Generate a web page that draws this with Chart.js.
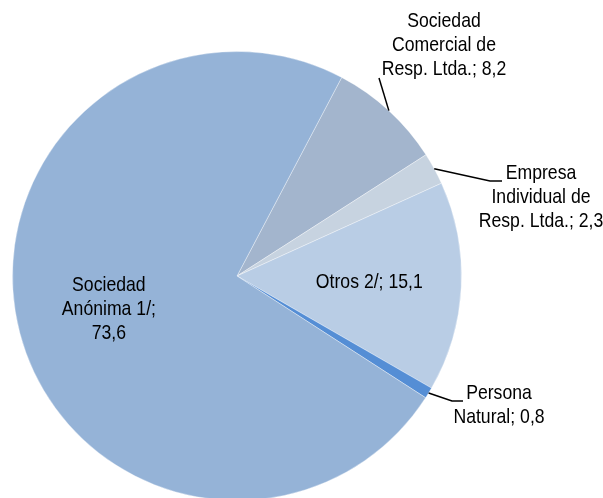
<!DOCTYPE html>
<html lang="es">
<head>
    <meta charset="UTF-8">
    <title>Distribución por tipo de organización</title>
    <script src="https://cdn.jsdelivr.net/npm/chart.js"></script>
    <style>
        html, body {
            margin: 0;
            padding: 0;
            background: #ffffff;
            overflow: hidden;
        }

        .chart-wrap {
            width: 603px;
            height: 498px;
            overflow: hidden;
        }
    </style>
</head>
<body>
    <div class="chart-wrap">
        <canvas id="pieChart" width="603" height="504"></canvas>
    </div>

    <script>
        // Data
        const categories = [
            'Sociedad Comercial de Resp. Ltda.',
            'Empresa Individual de Resp. Ltda.',
            'Otros 2/',
            'Persona Natural',
            'Sociedad Anónima 1/'
        ];
        const shares = [8.2, 2.3, 15.1, 0.8, 73.6];
        const labelLines = [
            ['Sociedad', 'Comercial de', 'Resp. Ltda.; 8,2'],
            ['Empresa', 'Individual de', 'Resp. Ltda.; 2,3'],
            ['Otros 2/; 15,1'],
            ['Persona', 'Natural; 0,8'],
            ['Sociedad', 'Anónima 1/;', '73,6']
        ];

        // Styling / layout
        const sliceColors = ['#a3b5cd', '#c7d3e0', '#b9cde5', '#558ed5', '#95b3d7'];
        const FONT = "21px 'Liberation Sans', Arial, sans-serif";
        const NARROW = 0.84;   // squeeze to look like Arial Narrow
        const LINE_H = 24;
        // outside labels: text centre + leader bend points; null = inside label
        const outside = [
            { x: 444, y: 45, path: [[379, 78]] },
            { x: 541, y: 197, path: [[490, 181], [502, 181]] },
            null,
            { x: 499, y: 405, path: [[452, 401], [463, 401]] },
            null
        ];

        const labelPlugin = {
            id: 'sliceLabels',
            afterDatasetsDraw(chart) {
                const ctx = chart.ctx;
                const meta = chart.getDatasetMeta(0);
                ctx.save();
                ctx.font = FONT;
                ctx.fillStyle = '#000000';
                ctx.strokeStyle = '#000000';
                ctx.lineWidth = 1.5;
                ctx.textAlign = 'center';
                ctx.textBaseline = 'middle';
                meta.data.forEach((arc, i) => {
                    const p = arc.getProps(['x', 'y', 'startAngle', 'endAngle', 'outerRadius'], true);
                    const mid = (p.startAngle + p.endAngle) / 2;
                    const lines = labelLines[i];
                    let cx, cy;
                    if (outside[i]) {
                        const sx = p.x + Math.cos(mid) * p.outerRadius;
                        const sy = p.y + Math.sin(mid) * p.outerRadius;
                        ctx.beginPath();
                        ctx.moveTo(sx, sy);
                        outside[i].path.forEach(pt => ctx.lineTo(pt[0], pt[1]));
                        ctx.stroke();
                        cx = outside[i].x;
                        cy = outside[i].y;
                    } else {
                        const r = p.outerRadius * 0.59;
                        cx = p.x + Math.cos(mid) * r;
                        cy = p.y + Math.sin(mid) * r;
                    }
                    const top = cy - (lines.length - 1) * LINE_H / 2;
                    lines.forEach((t, k) => {
                        ctx.save();
                        ctx.translate(cx, top + k * LINE_H);
                        ctx.scale(NARROW, 1);
                        ctx.fillText(t, 0, 0);
                        ctx.restore();
                    });
                });
                ctx.restore();
            }
        };

        new Chart(document.getElementById('pieChart'), {
            type: 'pie',
            data: {
                labels: categories,
                datasets: [{
                    data: shares,
                    backgroundColor: sliceColors,
                    borderColor: 'rgba(255,255,255,0.35)',
                    borderWidth: 1
                }]
            },
            options: {
                responsive: false,
                animation: false,
                rotation: 27.8,
                layout: {
                    padding: { left: 12, right: 141, top: 51, bottom: 3 }
                },
                plugins: {
                    legend: { display: false },
                    tooltip: { enabled: false }
                }
            },
            plugins: [labelPlugin]
        });
    </script>
</body>
</html>
